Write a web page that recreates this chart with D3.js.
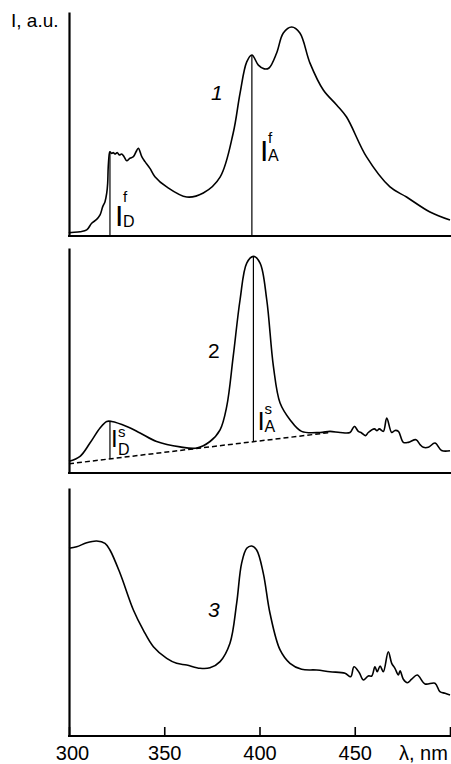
<!DOCTYPE html>
<html>
<head>
<meta charset="utf-8">
<script src="https://cdn.jsdelivr.net/npm/d3@7"></script>
<style>
  body { margin: 0; background: #fff; }
  svg { display: block; font-family: Arial, "Liberation Sans", sans-serif; }
</style>
</head>
<body>
<div id="chart"></div>
<script>
// wavelength (nm) / intensity (a.u., 0-100 of each panel)
const curve1 = [
  [300, 1.3], [300.5, 1.5], [305.8, 1.9], [309.3, 2.7], [311.9, 5.7], [314.5, 7.4],
  [316.3, 9.4], [317.7, 13.1], [318.9, 15.3], [319.8, 19.1], [320.3, 23.5], [320.6, 30.9],
  [321.2, 36.9], [321.5, 37.6], [322.4, 36.9], [323.3, 37.2], [324.1, 36.6], [325.4, 37.2],
  [326.4, 36.2], [327.7, 36.6], [328.9, 35.4], [330.3, 33.6], [332, 34.7], [333.8, 35.4],
  [335.2, 37.6], [336.4, 39.2], [338.2, 35.4], [339.9, 33.2], [342.5, 30.2], [345.1, 26.5],
  [351.3, 21.9], [361.8, 17.4], [370.5, 19.2], [379.3, 26.3], [386.2, 46], [389.8, 63.8],
  [393.3, 77.7], [396, 80.8], [399.4, 76.3], [402.5, 74.6], [405, 75], [409, 81.7],
  [412.5, 90.6], [416.9, 93.3], [421.2, 90.6], [426.5, 77.2], [433.5, 65.2], [440.5, 58.5],
  [445.7, 53.1], [456.2, 35.3], [468.5, 21.9], [477.2, 17.4], [489.5, 10.7], [500, 7.1]
];

const curve2 = [
  [300, 5.2], [305.8, 7.4], [311, 13.3], [316.3, 20], [319.8, 22.9], [322.4, 22.9],
  [330.3, 20.7], [337.3, 17.8], [346, 14], [358.3, 11.6], [367.1, 11.1], [374, 14],
  [379.3, 19.2], [382.8, 29.6], [386.2, 51.8], [389.8, 77], [393.3, 93.3], [396.8, 96.3],
  [400.3, 93.3], [403.8, 77], [407.3, 47.4], [410.8, 31.1], [416, 23.7], [422.1, 18.5],
  [431.8, 18], [437, 18.5], [442.3, 18], [447.5, 18], [449.8, 20.7], [451.9, 18.5],
  [453.6, 17.8], [455.7, 16.6], [457.1, 18], [460.3, 19.6], [461.7, 18.8], [462.9, 19.6],
  [465, 18.5], [466.8, 24.4], [469.4, 18], [471.1, 18.9], [472.9, 18.5], [475.5, 13.6],
  [478.1, 13.6], [482.2, 14.8], [484.3, 12.6], [486, 11.4], [488.6, 11.4], [492.1, 13.3],
  [495.6, 10], [500, 9.9]
];

const curve3 = [
  [300, 75.7], [304, 76.3], [309.3, 77.9], [314.5, 78.6], [318.9, 77.7], [321.5, 75],
  [326.8, 65.6], [333.8, 50.8], [339, 42.7], [344.3, 36], [351.3, 31.3], [356.5, 29.3],
  [361.8, 28.6], [368.8, 27.3], [374, 27.5], [379.3, 30], [384.5, 37.4], [388, 53.5],
  [390.6, 69.6], [393.3, 75.7], [395.9, 76.6], [398.5, 75], [402, 65.6], [405.5, 49.5],
  [410.8, 34.7], [416, 29.3], [422.1, 26.9], [430, 26.6], [437, 25.9], [444.9, 25.3],
  [447.9, 23.9], [449.6, 27.9], [452.4, 25.5], [454.5, 22.6], [457.1, 24.2], [458.9, 24.2],
  [460.6, 27.9], [461.8, 25.9], [463.3, 28.2], [465, 25.9], [467.6, 34], [469.4, 29.3],
  [471.1, 27.3], [472.9, 24.6], [473.8, 26.3], [475.5, 22.9], [477.6, 21.5], [479.9, 22.9],
  [482.8, 24.6], [486.9, 21], [492.1, 21.3], [494.7, 17.9], [497.4, 17.2], [500, 16.5]
];

// dashed baseline under curve 2
const baseline2 = [[300, 4.1], [437, 18]];

// vertical marker lines: [wavelength, top intensity]
const markers1 = [[321.5, 37.6], [396, 80.8]];
const markers2 = [[321.5, 22.9], [396.8, 96.3]];

const xTicks = [300, 350, 400, 450, 500];

const width = 451, height = 764;
const left = 69, right = 450;

const svg = d3.select("#chart").append("svg")
  .attr("width", width)
  .attr("height", height);

const x = d3.scaleLinear().domain([300, 500]).range([left, right]);

const panels = [
  { top: 12, bottom: 236, data: curve1 },
  { top: 248, bottom: 473, data: curve2 },
  { top: 488, bottom: 736, data: curve3 }
];

panels.forEach((p, i) => {
  p.y = d3.scaleLinear().domain([0, 100]).range([p.bottom, p.top]);

  const g = svg.append("g");

  // y axis: plain line, no ticks
  g.append("g")
    .attr("transform", `translate(${left},0)`)
    .call(d3.axisLeft(p.y).tickValues([]).tickSizeOuter(0))
    .select(".domain")
    .attr("stroke-width", 2.2);

  // x axis
  const xAxis = d3.axisBottom(x).tickSizeOuter(0);
  if (i < 2) {
    xAxis.tickValues([]);
  } else {
    xAxis.tickValues(xTicks).tickSizeInner(-9).tickPadding(10)
      .tickFormat(d => d === 500 ? "" : d);
  }
  const ax = g.append("g")
    .attr("transform", `translate(0,${p.bottom})`)
    .call(xAxis);
  ax.select(".domain").attr("stroke-width", 2.2).attr("d", `M${left - 1},0H${width}`);
  ax.selectAll(".tick line").attr("stroke-width", 1.6);
  ax.selectAll(".tick text")
    .attr("font-size", 20)
    .attr("font-family", "Arial, 'Liberation Sans', sans-serif")
    .attr("fill", "#000")
    .attr("dx", d => d === 300 ? 3 : 0);

  const line = d3.line()
    .x(d => x(d[0]))
    .y(d => p.y(d[1]))
    .curve(d3.curveCatmullRom.alpha(0.5));

  g.append("path")
    .datum(p.data)
    .attr("fill", "none")
    .attr("stroke", "#000")
    .attr("stroke-width", 1.6)
    .attr("stroke-linejoin", "round")
    .attr("d", line);
});

// panel 1 markers
const p1 = panels[0], p2 = panels[1];
svg.selectAll(".m1").data(markers1).enter().append("line")
  .attr("x1", d => x(d[0])).attr("x2", d => x(d[0]))
  .attr("y1", d => p1.y(d[1])).attr("y2", p1.y(0))
  .attr("stroke", "#000").attr("stroke-width", 1.2);

// panel 2 dashed baseline and markers
const baseAt = lam => baseline2[0][1] +
  (lam - baseline2[0][0]) * (baseline2[1][1] - baseline2[0][1]) / (baseline2[1][0] - baseline2[0][0]);

svg.append("path")
  .datum(baseline2)
  .attr("fill", "none")
  .attr("stroke", "#000")
  .attr("stroke-width", 1.5)
  .attr("stroke-dasharray", "5,3")
  .attr("d", d3.line().x(d => x(d[0])).y(d => p2.y(d[1])));

svg.selectAll(".m2").data(markers2).enter().append("line")
  .attr("x1", d => x(d[0])).attr("x2", d => x(d[0]))
  .attr("y1", d => p2.y(d[1])).attr("y2", d => p2.y(baseAt(d[0])))
  .attr("stroke", "#000").attr("stroke-width", 1.2);

// I labels with stacked super/subscripts, one text element each
function intensityLabel(xI, yI, sizeI, sup, sub, xs, supY, subY) {
  const t = svg.append("text");
  t.append("tspan").attr("x", xI).attr("y", yI).attr("font-size", sizeI).text("I");
  t.append("tspan").attr("x", xs).attr("y", supY).attr("font-size", 15).text(sup);
  t.append("tspan").attr("x", xs).attr("y", subY).attr("font-size", 16).text(sub);
}
intensityLabel(x(markers1[0][0]) + 5, 226, 30, "f", "D", x(markers1[0][0]) + 13, 202, 227);
intensityLabel(x(markers1[1][0]) + 8, 161, 30, "f", "A", x(markers1[1][0]) + 16, 143, 161);
intensityLabel(x(markers2[0][0]) + 1, 447, 24, "s", "D", x(markers2[0][0]) + 8, 437, 455);
intensityLabel(x(markers2[1][0]) + 4, 430, 26, "s", "A", x(markers2[1][0]) + 11, 414, 432);

// curve numbers
svg.append("text").attr("x", 211).attr("y", 100).attr("font-size", 21)
  .attr("font-style", "italic").text("1");
svg.append("text").attr("x", 208).attr("y", 358).attr("font-size", 21).text("2");
svg.append("text").attr("x", 208).attr("y", 617).attr("font-size", 21)
  .attr("font-style", "italic").text("3");

// axis titles
svg.append("text").attr("x", 11).attr("y", 27).attr("font-size", 19).text("I, a.u.");
svg.append("text").attr("x", 399).attr("y", 760).attr("font-size", 20).text("λ, nm");
</script>
</body>
</html>
